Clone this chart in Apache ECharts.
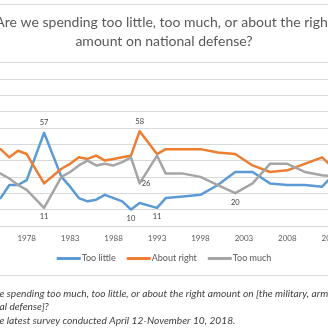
<!DOCTYPE html>
<html><head><meta charset="utf-8">
<script src="https://cdn.jsdelivr.net/npm/echarts@6/dist/echarts.min.js"></script>
<style>
html,body{margin:0;padding:0;width:328px;height:328px;overflow:hidden;background:#fff;}
#c{position:absolute;left:-86px;top:0;width:500px;height:328px;}
</style></head><body><div id="c"></div>
<script>
// ---- data ----
const axisYears = ['1973','1974','1975','1976','1977','1978','1979','1980','1981','1982','1983','1984','1985','1986','1987','1988','1989','1990','1991','1992','1993','1994','1995','1996','1997','1998','1999','2000','2001','2002','2003','2004','2005','2006','2007','2008','2009','2010','2011','2012','2013','2014','2015','2016','2017','2018'];
const surveyYears = [1973,1974,1975,1976,1977,1978,1980,1982,1983,1984,1985,1986,1987,1988,1989,1990,1991,1993,1994,1996,1998,2000,2002,2004,2006,2008,2010,2012,2014,2016,2018];
const tooLittle  = [11,17,17,25,25,28,57,30,24,17,15,16,19,17,15,10,14,11,17,18,19,25,33,33,26,25,25,24,35,33,38];
const aboutRight = [45,46,47,42,46,44,26,35,38,42,41,43,40,41,42,43,58,44,47,47,47,45,44,37,33,34,38,42,32,35,37];
const tooMuch    = [38,32,32,29,25,22,11,30,33,37,40,37,38,37,39,42,26,43,32,32,30,25,20,26,38,38,33,31,30,27,23];
const seriesNames = ['Too little','About right','Too much'];
const titleLines = ['Are we spending too little, too much, or about the right','amount on national defense?'];
// labelled points: [series index, year]
const labelledPoints = [[0,1980],[1,1991],[2,1980],[0,1990],[2,1991],[0,1993],[2,2002]];
const noteLines = [
  ['Question: Are w','e spending too much, too little, or about the right amount on [the military, armaments and defense / nation'],
  ['nation','al defense]?'],
  ['Note: Th','e latest survey conducted April 12-November 10, 2018.']
];

// ---- styles ----
const OFF = 86;
const colors = ['#5b9bd5','#ed7d31','#a5a5a5'];
const labelPos = {'0-1980':'top','1-1991':'top','2-1980':'bottom','0-1990':'bottom','2-1991':'right','0-1993':'bottom','2-2002':'bottom'};
const FONT = 'Lato';

function build(si, vals){
  return axisYears.map(y => {
    const i = surveyYears.indexOf(+y);
    if (i < 0) return null;
    const key = si + '-' + y;
    const isLab = labelledPoints.some(p => p[0]===si && p[1]===+y);
    if (isLab) {
      const pos = labelPos[key];
      return {value: vals[i], label:{show:true, position:pos, distance: pos==='right'?2:(pos==='top'?6:5),
        offset: pos==='right'?[1,5]:(pos==='bottom'?[0,6]:[0,0]),
        fontSize:7.5, color:'#404040', fontFamily:FONT}};
    }
    return vals[i];
  });
}
const allVals = [tooLittle, aboutRight, tooMuch];

const cv = document.createElement('canvas').getContext('2d');
const noteFont = 'italic 10.2px ' + FONT;
cv.font = noteFont;
const noteY = [293.3, 306.5, 320.7];
const graphics = [
  {type:'line', shape:{x1:0,y1:4.5,x2:500,y2:4.5}, style:{stroke:'#d9d9d9', lineWidth:1}},
  {type:'line', shape:{x1:0,y1:275.5,x2:500,y2:275.5}, style:{stroke:'#d9d9d9', lineWidth:1}}
];
noteLines.forEach((ln, k) => {
  const w = cv.measureText(ln[0]).width;
  graphics.push({type:'text', x: OFF - w - 0.5, y: noteY[k], style:{text: ln[0] + ln[1], font: noteFont, fill:'#3f3f3f', textVerticalAlign:'middle'}});
});

const chart = echarts.init(document.getElementById('c'), null, {renderer:'canvas'});
chart.setOption({
  animation:false,
  backgroundColor:'#fff',
  title:{text: titleLines.join('\n'), left:'center', top:13, padding:0,
    textStyle:{fontSize:14, lineHeight:19, color:'#595959', fontWeight:'normal', fontFamily:FONT}},
  legend:{data: seriesNames, left:'center', top:254, padding:0, icon:'rect', itemWidth:24, itemHeight:3, itemGap:11,
    textStyle:{fontSize:9, color:'#595959', fontFamily:FONT, padding:[0,0,0,-4]}},
  grid:{left:64.9, right:35.4, top:62.7, bottom:102.2},
  xAxis:{type:'category', data: axisYears, boundaryGap:true,
    axisLine:{lineStyle:{color:'#d9d9d9'}}, axisTick:{show:false},
    axisLabel:{interval:(i,v)=>((+v-1973)%5===0), color:'#595959', fontSize:8, fontFamily:FONT, margin:9}},
  yAxis:{type:'value', min:0, max:100, interval:10, axisLabel:{show:false},
    axisLine:{show:false}, axisTick:{show:false}, splitLine:{lineStyle:{color:'#d9d9d9'}}},
  graphic: graphics,
  series: seriesNames.map((n, si) => ({
    name:n, type:'line', data: build(si, allVals[si]), connectNulls:true, showSymbol:true, symbol:'circle', symbolSize:0.01,
    itemStyle:{color:colors[si]}, labelLayout:{hideOverlap:false},
    color: colors[si], lineStyle:{width:2.5, color:colors[si], join:'round'}
  }))
});
</script></body></html>
